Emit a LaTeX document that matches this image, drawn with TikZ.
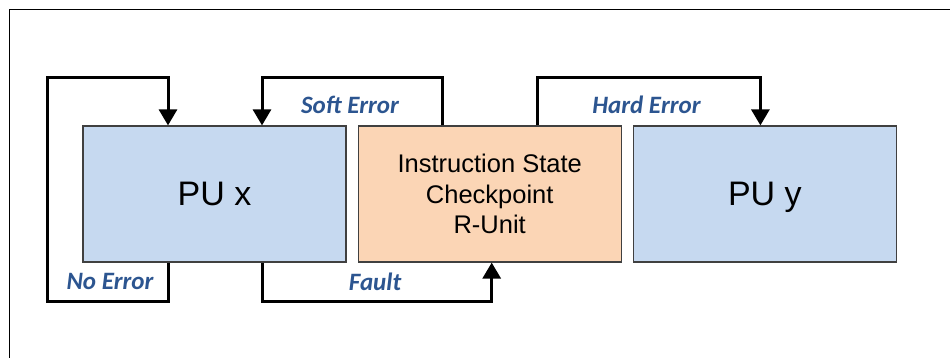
\documentclass[tikz,border=0pt]{standalone}
\usepackage{fontspec}
\setmainfont{Liberation Sans}
\newfontfamily\lblfont{Carlito}
\usepackage{tikz}
\usepackage{xcolor}
\usetikzlibrary{arrows.meta,positioning,calc}

\definecolor{publue}{HTML}{C6D9F0}
\definecolor{runit}{HTML}{FBD5B5}
\definecolor{lblblue}{HTML}{2C5590}
\definecolor{boxline}{HTML}{404040}

\tikzset{
    unitbox/.style={draw=boxline, line width=1.2pt, minimum width=263pt, minimum height=136pt, inner sep=0pt},
    flow/.style={line width=3pt, -{Triangle[length=16pt,width=18pt]}},
    lbl/.style={text=lblblue, font=\lblfont\bfseries\itshape\fontsize{25}{30}\selectfont},
}

\begin{document}
\begin{tikzpicture}[x=1pt, y=1pt]
            \useasboundingbox (0,0) rectangle (950,358);
            % frame
            \draw[line width=1pt] (9,0) -- (9,348) -- (950,348);
            % units
            \node[unitbox, fill=publue, font=\fontsize{34}{40}\selectfont] (pux) at (214.5,164) {PU x};
            \node[unitbox, fill=runit, right=11pt of pux, align=center,
                  font=\fontsize{25.5}{30.5}\selectfont] (rnt) {Instruction State\\Checkpoint\\R-Unit};
            \node[unitbox, fill=publue, right=11pt of rnt, font=\fontsize{34}{40}\selectfont] (puy) {PU \smash{y}};
            % loops
            \coordinate (top) at (47,280);
            \coordinate (bot) at (47,56);
            \coordinate (nea) at ([xshift=-46.5pt]pux.south);
            \coordinate (neb) at ([xshift=-46.5pt]pux.north);
            \coordinate (sfa) at ([xshift=-47pt]rnt.north);
            \coordinate (sfb) at ([xshift=47.5pt]pux.north);
            \coordinate (fla) at ([xshift=47.5pt]pux.south);
            \coordinate (flb) at ([xshift=2pt]rnt.south);
            \coordinate (hda) at ([xshift=48pt]rnt.north);
            \coordinate (hdb) at ([xshift=-4.5pt]puy.north);
            \draw[flow] (nea) -- (nea |- bot) -- (bot) -- (top) -- (neb |- top) -- (neb);
            \draw[flow] (sfa) -- (sfa |- top) -- (sfb |- top) -- (sfb);
            \draw[flow] (fla) -- (fla |- bot) -- (flb |- bot) -- (flb);
            \draw[flow] (hda) -- (hda |- top) -- (hdb |- top) -- (hdb);
            % labels
            \node[lbl] (lnoerr) at (110,76.5) {No Error};
            \node[lbl] (lsoft) at (350,253.5) {Soft Error};
            \node[lbl] (lfault) at (375,76.5) {Fault};
            \node[lbl] (lhard) at (646.5,253.5) {Hard Error};
        \end{tikzpicture}
\end{document}
